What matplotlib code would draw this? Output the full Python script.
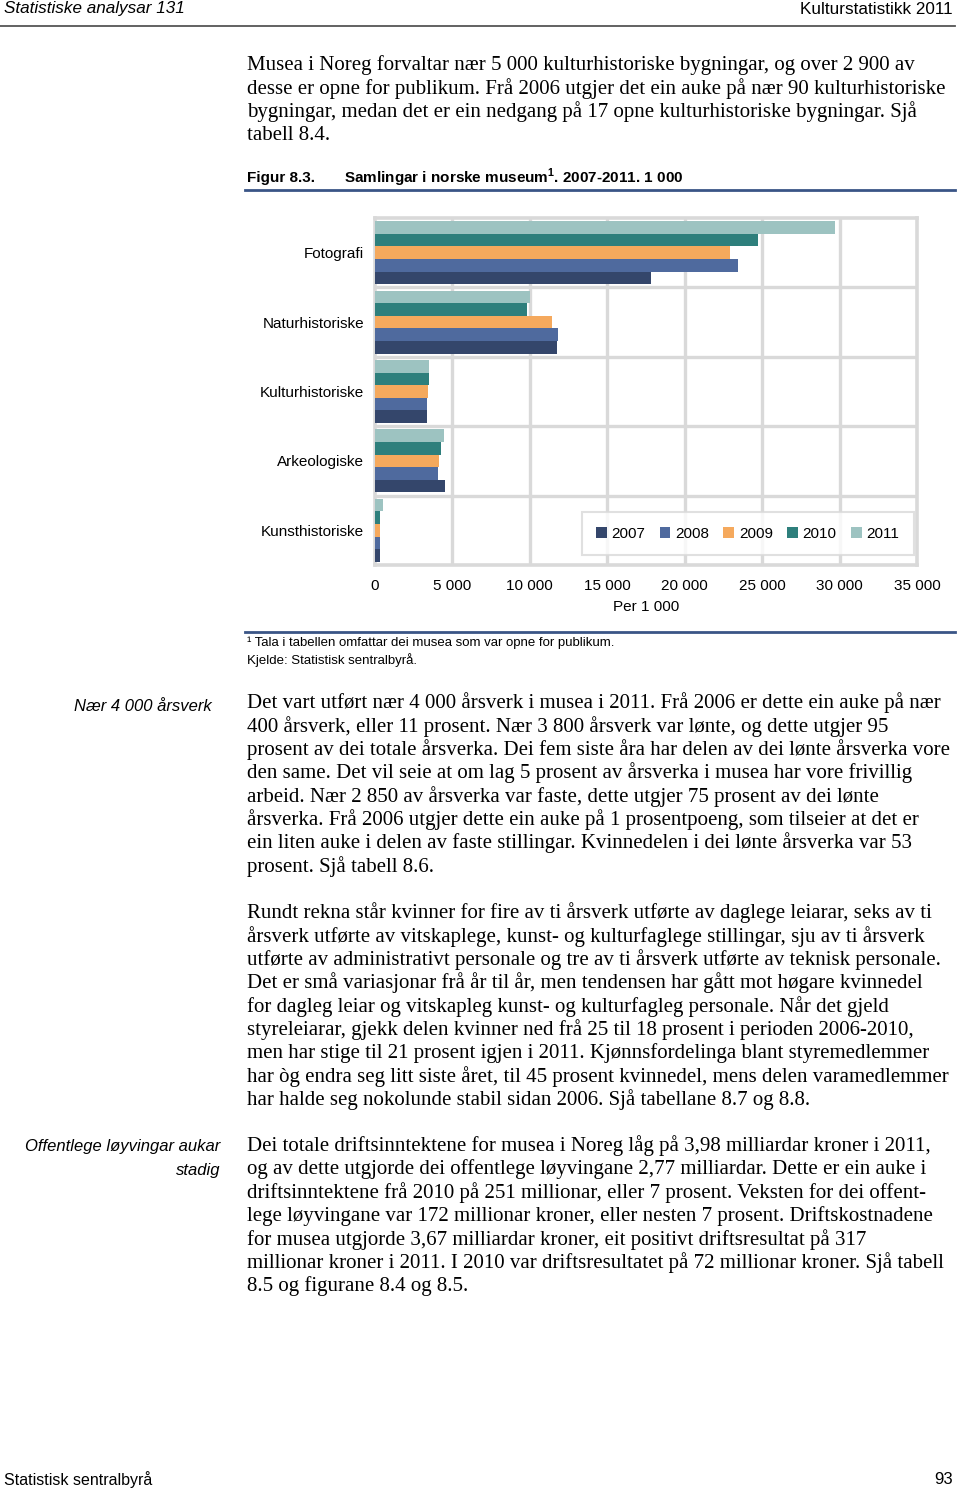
import matplotlib
matplotlib.use("Agg")
import matplotlib.pyplot as plt
import numpy as np

plt.rcParams["mathtext.fontset"] = "custom"
plt.rcParams["mathtext.rm"] = "Liberation Sans"
plt.rcParams["mathtext.bf"] = "Liberation Sans:bold"

# ---- data ----
categories = ["Fotografi", "Naturhistoriske", "Kulturhistoriske", "Arkeologiske", "Kunsthistoriske"]
years = ["2007", "2008", "2009", "2010", "2011"]
values_2007 = [17850, 11770, 3360, 4530, 320]
values_2008 = [23420, 11840, 3360, 4075, 320]
values_2009 = [22900, 11450, 3430, 4140, 320]
values_2010 = [24710, 9830, 3490, 4270, 320]
values_2011 = [29700, 10030, 3490, 4460, 520]
series = [values_2007, values_2008, values_2009, values_2010, values_2011]
colors = ["#34466B", "#4F6A9E", "#F5A95D", "#2E7F7C", "#9DC3C1"]
xticks = [0, 5000, 10000, 15000, 20000, 25000, 30000, 35000]
xtick_labels = ["0", "5 000", "10 000", "15 000", "20 000", "25 000", "30 000", "35 000"]

W, H = 960, 1489
fig = plt.figure(figsize=(W / 100, H / 100), dpi=100)
fig.patch.set_facecolor("white")

SANS = ["Liberation Sans", "DejaVu Sans"]
SERIF = ["Liberation Serif", "DejaVu Serif"]
BODY = 15

def fx(x):
    return x / W

def fy(y):
    return 1 - y / H

def txt(x, y, s, **kw):
    kw.setdefault("va", "center")
    fig.text(fx(x), fy(y), s, **kw)

def hline(x0, x1, y, color, lw):
    fig.add_artist(plt.Line2D([fx(x0), fx(x1)], [fy(y), fy(y)], color=color, lw=lw,
                              transform=fig.transFigure))

# header / footer
txt(4, 9, "Statistiske analysar 131", family=SANS, style="italic", fontsize=12.3)
txt(953, 9, "Kulturstatistikk 2011", family=SANS, fontsize=12.3, ha="right")
hline(0, 955, 26, "#555555", 1.3)
txt(4, 1480, "Statistisk sentralbyrå", family=SANS, fontsize=11.5)
txt(953, 1480, "93", family=SANS, fontsize=12, ha="right")

# body paragraph 1
p1 = ["Musea i Noreg forvaltar nær 5 000 kulturhistoriske bygningar, og over 2 900 av",
      "desse er opne for publikum. Frå 2006 utgjer det ein auke på nær 90 kulturhistoriske",
      "bygningar, medan det er ein nedgang på 17 opne kulturhistoriske bygningar. Sjå",
      "tabell 8.4."]
for i, line in enumerate(p1):
    txt(247, 65 + i * 23.4, line, family=SERIF, fontsize=BODY)

# figure title
txt(247, 178, "Figur 8.3.", family=SANS, fontsize=11, weight="bold")
txt(344, 178, r"Samlingar i norske museum$^{\mathbf{1}}$. 2007-2011. 1 000", family=SANS,
    fontsize=11, weight="bold")
hline(245, 955, 190, "#3A5586", 2)

# chart axes
ax_l, ax_r, ax_t, ax_b = 375, 917, 218, 565
ax = fig.add_axes([fx(ax_l), fy(ax_b), (ax_r - ax_l) / W, (ax_b - ax_t) / H])
n = len(categories)
bh = 0.181
ypos = np.arange(n)
for j, (vals, col, yr) in enumerate(zip(series, colors, years)):
    offs = (2 - j) * bh
    ax.barh(ypos + offs, vals, height=bh, color=col, label=yr, zorder=3)
ax.set_xlim(0, 35000)
ax.set_ylim(n - 0.5, -0.5)
ax.set_yticks(ypos)
ax.set_yticklabels(categories, family=SANS, fontsize=11)
ax.set_xticks(xticks)
ax.set_xticklabels(xtick_labels, family=SANS, fontsize=11)
ax.tick_params(length=0)
ax.tick_params(axis="x", pad=10)
ax.tick_params(axis="y", pad=8)
gc = "#D9D9D9"
for xv in xticks[1:-1]:
    ax.axvline(xv, color=gc, lw=2.4, zorder=1)
for yb in np.arange(0.5, n - 0.5, 1):
    ax.axhline(yb, color=gc, lw=2.4, zorder=1)
for sp in ax.spines.values():
    sp.set_color(gc)
    sp.set_linewidth(2.6)
ax.set_xlabel("Per 1 000", family=SANS, fontsize=11, labelpad=5)
leg = ax.legend(loc="lower right", bbox_to_anchor=(0.994, 0.028), borderaxespad=0, ncol=5,
                frameon=True, fancybox=False, edgecolor=gc, handlelength=0.7, handleheight=0.7,
                handletextpad=0.3, columnspacing=0.95, borderpad=0.95,
                prop={"family": SANS, "size": 11})
leg.get_frame().set_linewidth(1.5)
leg.set_zorder(5)

# footnote
hline(245, 955, 632, "#3A5586", 2)
txt(247, 643, "¹ Tala i tabellen omfattar dei musea som var opne for publikum.", family=SANS, fontsize=9.5)
txt(247, 660, "Kjelde: Statistisk sentralbyrå.", family=SANS, fontsize=9.5)

# side headings
txt(212, 707, "Nær 4 000 årsverk", family=SANS, style="italic", fontsize=12, ha="right")
txt(220, 1147, "Offentlege løyvingar aukar", family=SANS, style="italic", fontsize=12, ha="right")
txt(220, 1170, "stadig", family=SANS, style="italic", fontsize=12, ha="right")

p2 = ["Det vart utført nær 4 000 årsverk i musea i 2011. Frå 2006 er dette ein auke på nær",
      "400 årsverk, eller 11 prosent. Nær 3 800 årsverk var lønte, og dette utgjer 95",
      "prosent av dei totale årsverka. Dei fem siste åra har delen av dei lønte årsverka vore",
      "den same. Det vil seie at om lag 5 prosent av årsverka i musea har vore frivillig",
      "arbeid. Nær 2 850 av årsverka var faste, dette utgjer 75 prosent av dei lønte",
      "årsverka. Frå 2006 utgjer dette ein auke på 1 prosentpoeng, som tilseier at det er",
      "ein liten auke i delen av faste stillingar. Kvinnedelen i dei lønte årsverka var 53",
      "prosent. Sjå tabell 8.6."]
for i, line in enumerate(p2):
    txt(247, 703 + i * 23.3, line, family=SERIF, fontsize=BODY)

p3 = ["Rundt rekna står kvinner for fire av ti årsverk utførte av daglege leiarar, seks av ti",
      "årsverk utførte av vitskaplege, kunst- og kulturfaglege stillingar, sju av ti årsverk",
      "utførte av administrativt personale og tre av ti årsverk utførte av teknisk personale.",
      "Det er små variasjonar frå år til år, men tendensen har gått mot høgare kvinnedel",
      "for dagleg leiar og vitskapleg kunst- og kulturfagleg personale. Når det gjeld",
      "styreleiarar, gjekk delen kvinner ned frå 25 til 18 prosent i perioden 2006-2010,",
      "men har stige til 21 prosent igjen i 2011. Kjønnsfordelinga blant styremedlemmer",
      "har òg endra seg litt siste året, til 45 prosent kvinnedel, mens delen varamedlemmer",
      "har halde seg nokolunde stabil sidan 2006. Sjå tabellane 8.7 og 8.8."]
for i, line in enumerate(p3):
    txt(247, 913 + i * 23.3, line, family=SERIF, fontsize=BODY)

p4 = ["Dei totale driftsinntektene for musea i Noreg låg på 3,98 milliardar kroner i 2011,",
      "og av dette utgjorde dei offentlege løyvingane 2,77 milliardar. Dette er ein auke i",
      "driftsinntektene frå 2010 på 251 millionar, eller 7 prosent. Veksten for dei offent-",
      "lege løyvingane var 172 millionar kroner, eller nesten 7 prosent. Driftskostnadene",
      "for musea utgjorde 3,67 milliardar kroner, eit positivt driftsresultat på 317",
      "millionar kroner i 2011. I 2010 var driftsresultatet på 72 millionar kroner. Sjå tabell",
      "8.5 og figurane 8.4 og 8.5."]
for i, line in enumerate(p4):
    txt(247, 1146 + i * 23.3, line, family=SERIF, fontsize=BODY)

fig.savefig("out.png", dpi=100, facecolor="white")
